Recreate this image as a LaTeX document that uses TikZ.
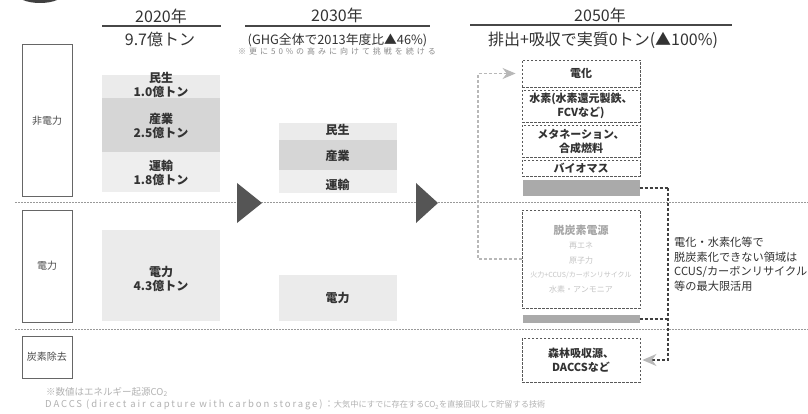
\documentclass[tikz,border=0pt]{standalone}
\usepackage{fontspec}
\setmainfont{Noto Sans CJK JP}
\usetikzlibrary{arrows.meta}
\definecolor{txt}{HTML}{333333}
\definecolor{blkA}{HTML}{EBEBEB}
\definecolor{blkB}{HTML}{D6D6D6}
\definecolor{blkC}{HTML}{EEEEEE}
\definecolor{barc}{HTML}{AAAAAA}
\definecolor{lite}{HTML}{B8B8B8}
\definecolor{faint}{HTML}{C4C4C4}
\definecolor{arrc}{HTML}{555555}
\begin{document}
\begin{tikzpicture}[x=1pt,y=-1pt,
  hdr/.style={font=\fontsize{16}{18}\selectfont, text=txt, inner sep=0},
  hline/.style={draw=txt!90, line width=1.2pt},
  catbox/.style={draw=black!60, line width=1pt, minimum width=50pt, inner sep=0, text=black!70, font=\fontsize{10}{12}\selectfont},
  blk/.style={minimum width=118pt, inner sep=0, draw=none},
  lbl/.style={font=\bfseries\fontsize{12}{14}\selectfont, align=center, text=txt, inner sep=0},
  dbox/.style={draw=black!65, dash pattern=on 2.5pt off 1.5pt, line width=0.9pt, minimum width=118pt, inner sep=0, align=center, text=txt, font=\bfseries\fontsize{11}{14}\selectfont},
  sepline/.style={draw=black!40, dash pattern=on 1.5pt off 1.5pt, line width=0.9pt},
  darkconn/.style={draw=black!75, dash pattern=on 3pt off 2pt, line width=1.1pt},
  liteconn/.style={draw=lite, dash pattern=on 3pt off 2pt, line width=1.1pt},
  fn/.style={font=\fontsize{9.5}{11}\selectfont, text=black!30, inner sep=0, anchor=west}
]
\useasboundingbox (0,0) rectangle (808,414);
\fill[white] (0,0) rectangle (808,414);
% top-left ornament
\fill[black!75] (40,-7) ellipse [x radius=24, y radius=10];

% headers
\node[hdr] (h20) at (161,16) {2020年};
\draw[hline] (102,26) -- (221,26);
\node[hdr] (v20) at (160,39) {9.7億トン};

\node[hdr] (h30) at (337,15.5) {2030年};
\draw[hline] (245,26) -- (430,26);
\node[font=\fontsize{12.8}{14}\selectfont, text=txt, inner sep=0] (v30) at (337.5,40) {(GHG全体で2013年度比▲46\%)};
\node[font=\fontsize{8}{9}\selectfont\addfontfeature{LetterSpace=37}, text=black!45, inner sep=0] (v30b) at (337,51) {※更に50\%の高みに向けて挑戦を続ける};

\node[hdr] (h50) at (600,15) {2050年};
\draw[hline] (470,25) -- (732,25);
\node[hdr] (v50) at (603,40) {排出+吸収で実質0トン(▲100\%)};

% category boxes
\node[catbox, minimum height=152pt] (c1) at (47,121) {非電力};
\node[catbox, minimum height=112pt] (c2) at (47,266) {電力};
\node[catbox, minimum height=42pt] (c3) at (47,357) {炭素除去};

% separators
\draw[sepline] (15,202) -- (808,202);
\draw[sepline] (15,329) -- (808,329);

% 2020 blocks
\node[blk, fill=blkA, minimum height=23pt] (a1) at (161,86.5) {};
\node[blk, fill=blkB, minimum height=54pt] (a2) at (161,125) {};
\node[blk, fill=blkC, minimum height=40pt] (a3) at (161,172) {};
\node[blk, fill=blkA, minimum height=91pt] (a4) at (161,275.5) {};
\node[lbl] (a1t) at (161,85) {民生\\1.0億トン};
\node[lbl] (a2t) at (161,125.5) {産業\\2.5億トン};
\node[lbl] (a3t) at (161,172.5) {運輸\\1.8億トン};
\node[lbl] (a4t) at (161,279) {電力\\4.3億トン};

% 2030 blocks
\node[blk, fill=blkA, minimum width=118pt, minimum height=17pt] (b1) at (337.5,131.5) {};
\node[blk, fill=blkB, minimum width=118pt, minimum height=30pt] (b2) at (337.5,155) {};
\node[blk, fill=blkC, minimum width=118pt, minimum height=23pt] (b3) at (337.5,181.5) {};
\node[blk, fill=blkA, minimum width=118pt, minimum height=46pt] (b4) at (337.5,298) {};
\node[lbl] (b1t) at (337.5,130) {民生};
\node[lbl] (b2t) at (337.5,156) {産業};
\node[lbl] (b3t) at (337.5,185) {運輸};
\node[lbl] (b4t) at (337.5,298) {電力};

% big arrows
\fill[arrc] (237,183) -- (262,203) -- (237,223) -- cycle;
\fill[arrc] (416,183) -- (438,203) -- (416,223) -- cycle;

% 2050 boxes
\node[dbox, minimum height=27pt] (d1) at (581,73.5) {電化};
\node[dbox, minimum height=32pt] (d2) at (581,106) {水素(水素還元製鉄、\\FCVなど)};
\node[dbox, minimum height=32pt] (d3) at (581,141) {メタネーション、\\合成燃料};
\node[dbox, minimum height=16pt] (d4) at (581,168) {バイオマス};
\node[blk, fill=barc, minimum width=117pt, minimum height=16pt] (bar1) at (581,188) {};
\node[dbox, minimum height=98pt, font=\fontsize{8}{14.5}\selectfont, text=faint] (d5) at (581,259)
  {{\bfseries\fontsize{11}{14.5}\selectfont\color{black!35}脱炭素電源}\\再エネ\\原子力\\{\fontsize{7}{14.5}\selectfont 火力+CCUS/カーボンリサイクル}\\水素・アンモニア};
\node[blk, fill=barc, minimum width=117pt, minimum height=8pt] (bar2) at (581,319) {};
\node[dbox, minimum height=44pt] (d6) at (581,360) {森林吸収源、\\DACCSなど};

% connectors
\coordinate (rc1) at (668,188);
\coordinate (rc2) at (668,319);
\draw[darkconn] (bar1.east) -- (rc1);
\draw[darkconn] (bar2.east) -- (rc2);
\draw[darkconn, -{Stealth[length=14pt, width=12pt, color=lite, fill=lite]}] (rc1) |- ([xshift=2pt]d6.east);
\coordinate (lc1) at (478,259);
\draw[liteconn, -{Stealth[length=13pt, width=11pt, color=lite, fill=lite]}, shorten >=6pt] (d5.west) -- (lc1) |- (d1.west);

% note
\node[anchor=west, align=left, text=txt, font=\fontsize{11.2}{14.5}\selectfont, inner sep=0] (note) at (674,264)
  {電化・水素化等で\\脱炭素化できない領域は\\CCUS/カーボンリサイクル\\等の最大限活用};

% footnotes
\node[fn] (fn1) at (46,392) {※数値はエネルギー起源CO\textsubscript{2}};
\node[fn] (fn2) at (45,405) {{\addfontfeature{LetterSpace=20}DACCS (direct air capture with carbon storage)：}{\fontsize{8.2}{11}\selectfont 大気中にすでに存在するCO\textsubscript{2}を直接回収して貯留する技術}};
\end{tikzpicture}
\end{document}
